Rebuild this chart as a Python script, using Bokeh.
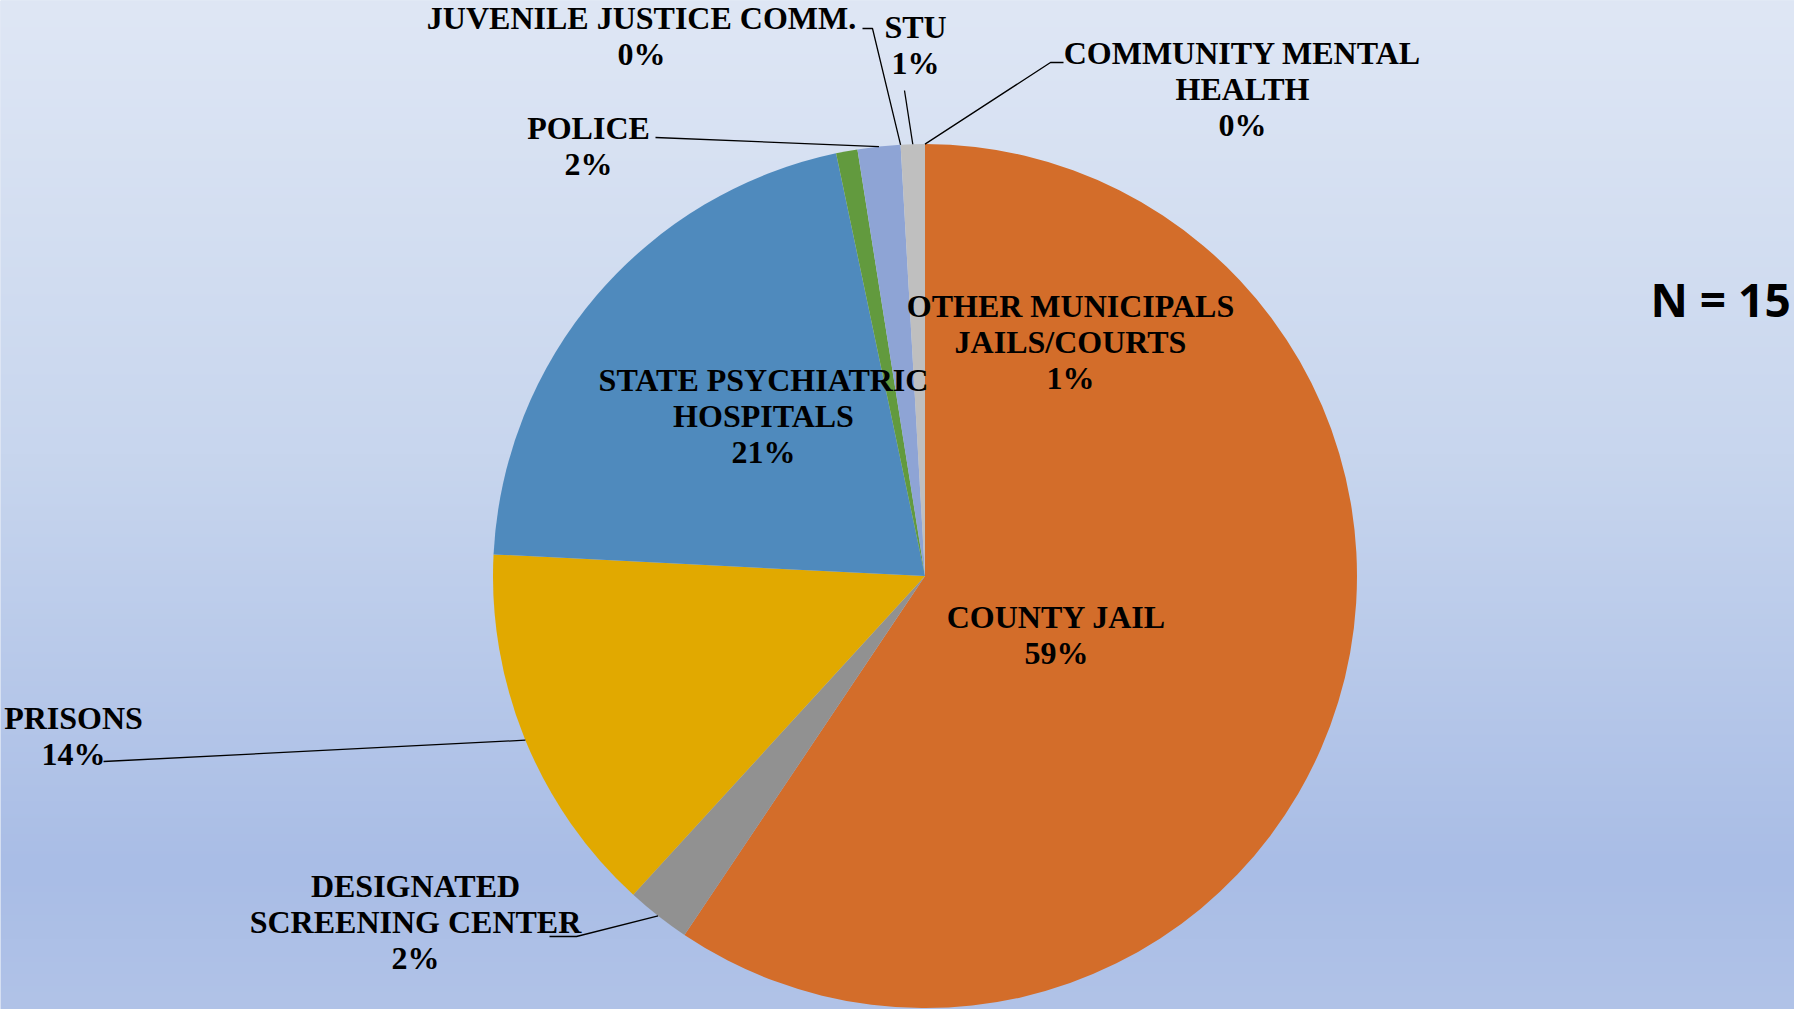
import numpy as np
from bokeh.plotting import figure
from bokeh.models import Range1d, ColumnDataSource
from bokeh.core.properties import value
from bokeh.embed import file_html
from bokeh.resources import INLINE

# ---------------- data ----------------
categories = [
    "COUNTY JAIL",
    "DESIGNATED\nSCREENING CENTER",
    "PRISONS",
    "STATE PSYCHIATRIC\nHOSPITALS",
    "OTHER MUNICIPALS\nJAILS/COURTS",
    "POLICE",
    "JUVENILE JUSTICE COMM.",
    "STU",
    "COMMUNITY MENTAL\nHEALTH",
]
shares = [59.4, 2.4, 14.0, 20.9, 0.8, 1.6, 0.0, 0.9, 0.0]
colors = ["#D36D2A", "#919191", "#E1A900", "#4F8ABD", "#629A3E",
          "#8EA4D5", "#A5A5A5", "#BFBFBF", "#7F7F7F"]
n_label = "N = 15"

# ---------------- layout (reference pixel positions) ----------------
W, H = 1794, 1009
FULL_H = 1009
cx, cy_scr, R = 924.5, 575.6, 432.0
cy = FULL_H - cy_scr

# label block centres (screen coords)
label_pos = [
    (1056, 634.5),
    (415, 921),
    (73, 735.5),
    (763, 415),
    (1070, 341),
    (588, 145),
    (641, 35.5),
    (915, 44.5),
    (1242, 88),
]
# leader line start points on the label side (screen coords), None = no leader
leader_start = [
    None,
    [(549, 936), (576, 936)],
    [(103, 761)],
    None,
    None,
    [(655, 137)],
    [(862, 28), (872, 28)],
    [(904, 90)],
    [(1063, 62), (1050, 62)],
]

p = figure(width=W, height=H, output_backend="svg", toolbar_location=None,
           x_range=Range1d(0, W), y_range=Range1d(0, H),
           min_border=0)
p.axis.visible = False
p.grid.visible = False
p.outline_line_color = None
p.background_fill_color = "#C8D5EE"
p.border_fill_color = "#C8D5EE"

# background gradient (top -> bottom)
rows = H
t = np.linspace(1.0, 0.0, rows)  # row 0 is bottom; t = 0 at top
stops_t = [0.0, 0.45, 0.86, 1.0]
stops_rgb = [(223, 231, 245), (200, 214, 238), (169, 189, 230), (177, 195, 232)]
img = np.zeros((rows, 1), dtype=np.uint32)
view = img.view(dtype=np.uint8).reshape((rows, 1, 4))
for ch in range(3):
    view[:, 0, ch] = np.interp(t, stops_t, [c[ch] for c in stops_rgb]).astype(np.uint8)
view[:, 0, 3] = 255
p.image_rgba(image=[img], x=0, y=0, dw=W, dh=H)

# pie wedges
total = sum(shares)
frac = np.array(shares) / total
cum = np.concatenate([[0.0], np.cumsum(frac)])
starts = np.pi / 2 - 2 * np.pi * cum[:-1]
ends = np.pi / 2 - 2 * np.pi * cum[1:]
keep = [i for i in range(len(shares)) if shares[i] > 0]
src = ColumnDataSource(dict(
    start=[starts[i] for i in keep],
    end=[ends[i] for i in keep],
    color=[colors[i] for i in keep],
))
p.wedge(x=cx, y=cy, radius=R, start_angle="start", end_angle="end",
        direction="clock", fill_color="color", line_color=None, source=src)

# leader lines: from label side to pie edge at slice mid angle
xs, ys = [], []
for i, pts in enumerate(leader_start):
    if pts is None:
        continue
    mid = (cum[i] + cum[i + 1]) / 2
    th = 2 * np.pi * mid
    ex = cx + R * np.sin(th)
    ey = cy + R * np.cos(th)
    xs.append([q[0] for q in pts] + [ex])
    ys.append([FULL_H - q[1] for q in pts] + [ey])
p.multi_line(xs=xs, ys=ys, line_color="black", line_width=1.3)

# labels
texts = [f"{c}\n{round(v / total * 100):d}%" for c, v in zip(categories, shares)]
lsrc = ColumnDataSource(dict(
    x=[q[0] for q in label_pos],
    y=[FULL_H - q[1] for q in label_pos],
    text=texts,
))
p.text(x="x", y="y", text="text", source=lsrc, text_align="center",
       text_baseline="middle", text_font=value("Liberation Serif"),
       text_font_style="bold", text_font_size="32px", text_color="black",
       text_line_height=1.0)

p.text(x=[1650], y=[FULL_H - 298], text=[n_label], text_align="left",
       text_baseline="middle", text_font=value("Open Sans"),
       text_font_style="bold", text_font_size="46px", text_color="black")

open("out.html", "w").write(file_html(p, INLINE))
